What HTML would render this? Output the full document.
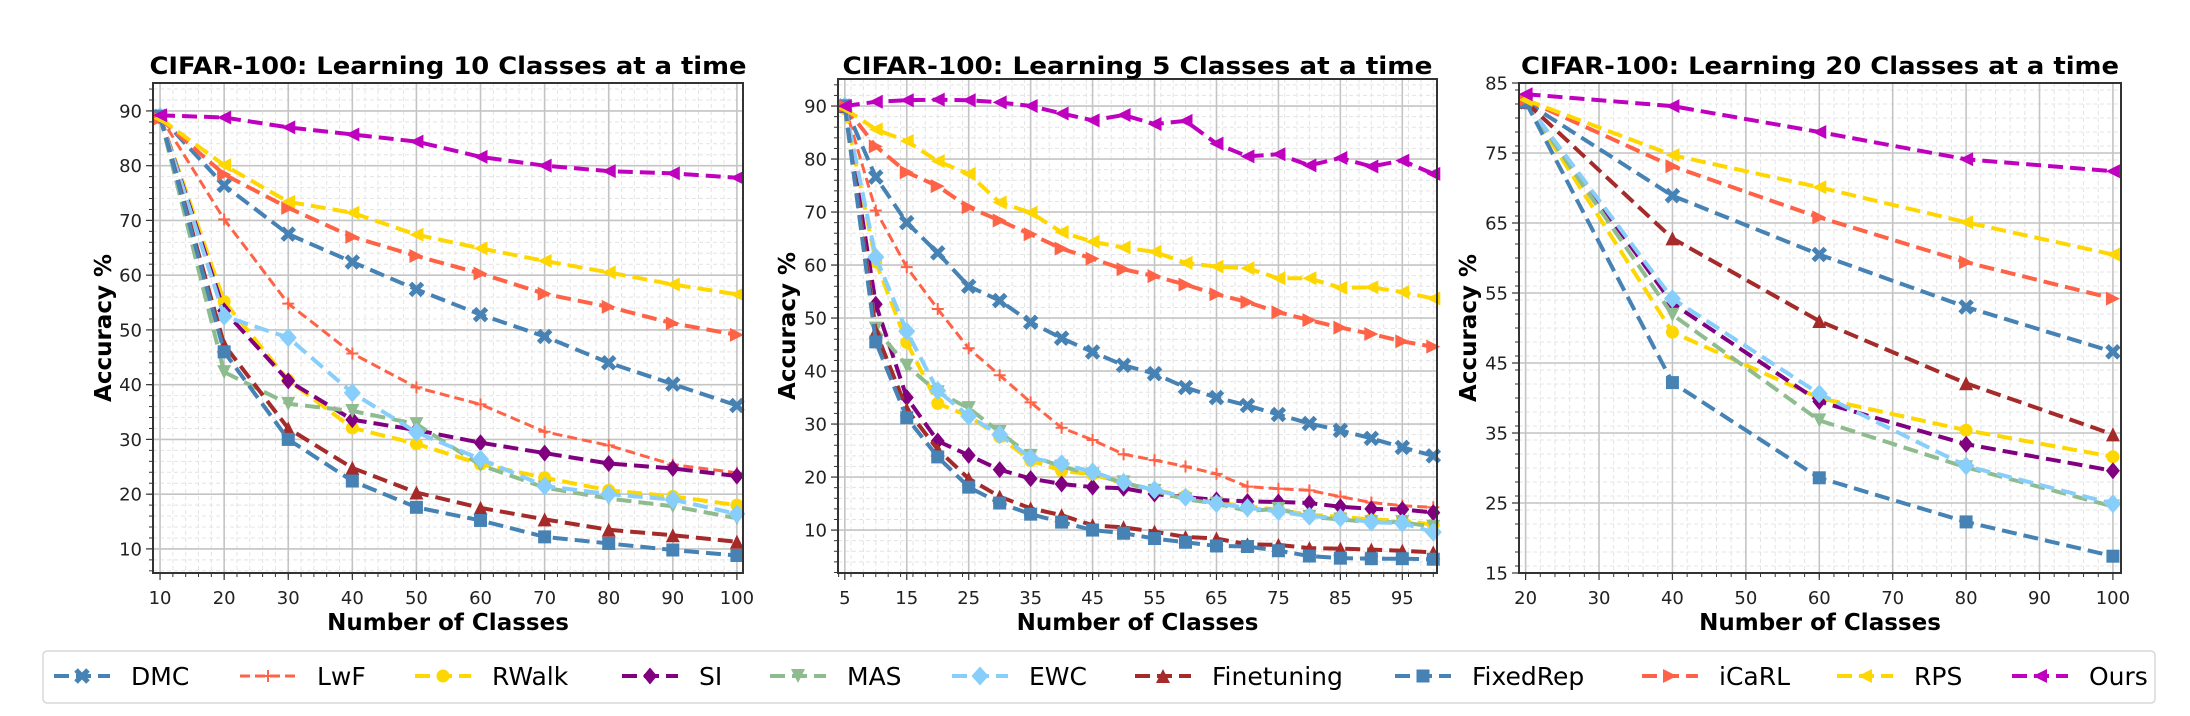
<!DOCTYPE html>
<html><head><meta charset="utf-8"><style>
html,body{margin:0;padding:0;background:#fff;}
svg{display:block;font-family:"DejaVu Sans","Liberation Sans",sans-serif;}
</style></head><body>
<svg id="fig" width="2190" height="716" viewBox="0 0 2190 716" xmlns="http://www.w3.org/2000/svg"></svg>
<script>
// ---------- data ----------
const seriesNames = ["DMC","LwF","RWalk","SI","MAS","EWC","Finetuning","FixedRep","iCaRL","RPS","Ours"];
const p1Classes = [10,20,30,40,50,60,70,80,90,100];
const p1DMC = [89,76.4,67.5,62.4,57.4,52.8,48.8,44,40.1,36.2];
const p1LwF = [89,70.2,54.8,45.7,39.5,36.4,31.4,28.9,25.4,23.9];
const p1RWalk = [89,55.2,40.8,32.1,29.2,25.5,23,20.7,19.6,18];
const p1SI = [89,53.5,40.7,33.6,31.7,29.4,27.5,25.6,24.7,23.3];
const p1MAS = [89,42.3,36.5,35.2,32.8,25.3,21.2,19.2,17.8,15.6];
const p1EWC = [89,52.5,48.6,38.5,31.3,26.4,21.5,20,19,16.4];
const p1Fine = [89,47.3,32,24.8,20.3,17.5,15.4,13.5,12.5,11.3];
const p1Fixed = [89,46,30,22.4,17.6,15.2,12.2,11,9.8,8.8];
const p1iCaRL = [88.6,78.4,72.3,67,63.5,60.3,56.6,54.2,51.2,49.1];
const p1RPS = [88.6,80.1,73.4,71.4,67.4,64.9,62.6,60.5,58.3,56.5];
const p1Ours = [89.2,88.8,87,85.7,84.4,81.6,80,79,78.6,77.8];

const p2Classes = [5,10,15,20,25,30,35,40,45,50,55,60,65,70,75,80,85,90,95,100];
const p2DMC = [90,76.6,68,62.3,56,53.3,49.2,46.2,43.6,41.1,39.5,36.9,35,33.5,31.8,30.1,28.8,27.3,25.6,24];
const p2LwF = [90,70.3,59.6,51.7,44.3,39.2,34.1,29.3,27,24.3,23.2,22,20.6,18.2,17.8,17.5,16.3,15.2,14.6,14.3];
const p2RWalk = [89.5,60.6,45.4,33.9,31.5,27.6,23.1,21.2,20.5,18.8,17.6,16.4,15.2,14.5,13.8,12.9,12.5,12,11.8,11];
const p2SI = [90,52.6,35,26.8,24.1,21.4,19.7,18.7,18.1,17.9,16.8,16.2,15.7,15.4,15.3,15.1,14.4,14,13.9,13.3];
const p2MAS = [90,48,41,36,33,28.5,24,22,20.5,19,17.4,15.8,15,13.6,14,12.5,12,11.5,11.5,10.6];
const p2EWC = [90,61.5,47.5,36.3,31.5,28,23.6,22.5,21,19,17.6,16.2,15,14.2,13.5,12.6,12.3,11.5,11.3,9.6];
const p2Fine = [90,47.5,32.8,25.2,19.7,16.3,14.1,12.8,10.9,10.5,9.7,8.7,8.4,7.3,7.2,6.6,6.5,6.3,6.1,5.8];
const p2Fixed = [90,45.5,31.2,23.8,18.1,15.1,13,11.5,10,9.4,8.4,7.7,7,6.9,6.1,5.1,4.7,4.6,4.6,4.5];
const p2iCaRL = [90,82.4,77.5,74.9,70.9,68.4,65.8,63.1,61.2,59.2,57.9,56.3,54.5,53,51.1,49.6,48.2,47,45.6,44.6];
const p2RPS = [89.5,85.6,83.4,79.6,77.2,71.8,69.9,66.2,64.4,63.3,62.5,60.4,59.7,59.4,57.5,57.5,55.7,55.8,54.9,53.7];
const p2Ours = [90,90.8,91.1,91.2,91.1,90.7,90,88.6,87.3,88.3,86.6,87.2,82.9,80.5,80.9,78.8,80.2,78.6,79.7,77.2];

const p3Classes = [20,40,60,80,100];
const p3DMC = [82.3,68.9,60.5,53,46.6];
const p3LwF = [82.3,null,null,null,null];
const p3RWalk = [82.3,49.4,40,35.4,31.6];
const p3SI = [82.3,53.5,39.5,33.4,29.6];
const p3MAS = [82.3,51.9,36.8,30.1,24.5];
const p3EWC = [82.3,54.2,40.6,30.3,24.9];
const p3Fine = [82.3,62.8,51,42.1,34.8];
const p3Fixed = [82.3,42.2,28.6,22.3,17.4];
const p3iCaRL = [82.6,73.1,65.8,59.4,54.2];
const p3RPS = [82.6,74.7,70.1,65.1,60.5];
const p3Ours = [83.4,81.7,78,74.1,72.4];

const p1YTicks = [10,20,30,40,50,60,70,80,90];
const p1XTicks = [10,20,30,40,50,60,70,80,90,100];
const p2YTicks = [10,20,30,40,50,60,70,80,90];
const p2XTicks = [5,15,25,35,45,55,65,75,85,95];
const p3YTicks = [15,25,35,45,55,65,75,85];
const p3XTicks = [20,30,40,50,60,70,80,90,100];

// ---------- styling ----------
const styles = {
  DMC:{c:"#4682b4",m:"X"}, LwF:{c:"#ff6347",m:"+",thin:true}, RWalk:{c:"#ffd700",m:"o"},
  SI:{c:"#800080",m:"D"}, MAS:{c:"#8fbc8f",m:"v"}, EWC:{c:"#87cefa",m:"D2"},
  Finetuning:{c:"#a52a2a",m:"^"}, FixedRep:{c:"#4682b4",m:"s"}, iCaRL:{c:"#ff6347",m:">"},
  RPS:{c:"#ffd700",m:"<"}, Ours:{c:"#bf00bf",m:"<"}
};
const svg = document.getElementById('fig');
const NS = "http://www.w3.org/2000/svg";
function mk(tag, attrs, parent){
  const e = document.createElementNS(NS, tag);
  for (const k in attrs) e.setAttribute(k, attrs[k]);
  (parent||svg).appendChild(e);
  return e;
}
function marker(g, type, x, y, c){
  let e;
  const r = 7;
  if (type==="o") e = mk('circle',{cx:x,cy:y,r:6.5,fill:c},g);
  else if (type==="s") e = mk('rect',{x:x-6.5,y:y-6.5,width:13,height:13,fill:c},g);
  else if (type==="D") e = mk('polygon',{points:`${x},${y-8.5} ${x+7},${y} ${x},${y+8.5} ${x-7},${y}`,fill:c},g);
  else if (type==="D2") e = mk('polygon',{points:`${x},${y-9.5} ${x+8.5},${y} ${x},${y+9.5} ${x-8.5},${y}`,fill:c},g);
  else if (type==="v") e = mk('polygon',{points:`${x-r},${y-r} ${x+r},${y-r} ${x},${y+r}`,fill:c},g);
  else if (type==="^") e = mk('polygon',{points:`${x-r},${y+r} ${x+r},${y+r} ${x},${y-r}`,fill:c},g);
  else if (type===">") e = mk('polygon',{points:`${x-r},${y-r} ${x-r},${y+r} ${x+r},${y}`,fill:c},g);
  else if (type==="<") e = mk('polygon',{points:`${x+r},${y-r} ${x+r},${y+r} ${x-r},${y}`,fill:c},g);
  else if (type==="+") e = mk('path',{d:`M${x-6},${y}H${x+6}M${x},${y-6}V${y+6}`,stroke:c,'stroke-width':2,fill:'none'},g);
  else if (type==="X") e = mk('path',{d:`M${x-6},${y-6}L${x+6},${y+6}M${x+6},${y-6}L${x-6},${y+6}`,stroke:c,'stroke-width':5,fill:'none'},g);
  
  
  return e;
}

function panel(cfg){
  const {id,L,R,T,B,xmin,xmax,ymin,ymax,xTicks,yTicks,xMinorStep,yMinorStep,classes,data,title,titleW,ylabX} = cfg;
  const g = mk('g',{});
  
  
  const sx = v => L + (v-xmin)/(xmax-xmin)*(R-L);
  const sy = v => B - (v-ymin)/(ymax-ymin)*(B-T);
  // minor grid
  const mg = mk('g',{stroke:"#e4e4e4",'stroke-width':1,'stroke-dasharray':"4 3"},g);
  
  
  for (let v=Math.ceil(xmin/xMinorStep)*xMinorStep; v<=xmax; v+=xMinorStep) mk('line',{x1:sx(v),x2:sx(v),y1:T,y2:B},mg);
  for (let v=Math.ceil(ymin/yMinorStep)*yMinorStep; v<=ymax; v+=yMinorStep) mk('line',{y1:sy(v),y2:sy(v),x1:L,x2:R},mg);
  // major grid + ticks
  const gg = mk('g',{stroke:"#c4c4c4",'stroke-width':1.6},g);
  
  
  xTicks.forEach(v=>mk('line',{x1:sx(v),x2:sx(v),y1:T,y2:B},gg));
  yTicks.forEach(v=>mk('line',{y1:sy(v),y2:sy(v),x1:L,x2:R},gg));
  // minor ticks
  const mt = mk('g',{stroke:"#333",'stroke-width':1},g);
  for (let v=Math.ceil(xmin/xMinorStep)*xMinorStep; v<=xmax; v+=xMinorStep) mk('line',{x1:sx(v),x2:sx(v),y1:B,y2:B+4},mt);
  for (let v=Math.ceil(ymin/yMinorStep)*yMinorStep; v<=ymax; v+=yMinorStep) mk('line',{y1:sy(v),y2:sy(v),x1:L,x2:L-4},mt);
  xTicks.forEach(v=>{
    mk('line',{x1:sx(v),x2:sx(v),y1:B,y2:B+7,stroke:"#333",'stroke-width':1.2},g);
    const t = mk('text',{x:sx(v),y:B+31,'text-anchor':'middle','font-size':18,fill:'#222'},g);
    t.textContent = v;
    
    
  });
  yTicks.forEach(v=>{
    mk('line',{y1:sy(v),y2:sy(v),x1:L,x2:L-7,stroke:"#333",'stroke-width':1.2},g);
    const t = mk('text',{x:L-11,y:sy(v)+6.5,'text-anchor':'end','font-size':18,fill:'#222'},g);
    t.textContent = v;
    
    
  });
  // series
  const clip = mk('clipPath',{id:id+'-clip'},g);
  mk('rect',{x:L,y:T-10,width:R-L+10,height:B-T+10},clip);
  const sg = mk('g',{'clip-path':`url(#${id}-clip)`},g);
  seriesNames.forEach((name,i)=>{
    const vals = data[i];
    const st = styles[name];
    const pts = [];
    vals.forEach((v,j)=>{ if (v!==null) pts.push([sx(classes[j]), sy(v)]); });
    if (pts.length<2) return;
    const line = mk('polyline',{points:pts.map(p=>p.join(',')).join(' '),fill:'none',stroke:st.c,
      'stroke-width':st.thin?3:4,'stroke-dasharray':st.thin?"10 5":"15 7",'stroke-linejoin':'round'},sg);
    
    
    pts.forEach(p=>marker(sg, st.m, p[0], p[1], st.c));
  });
  // frame
  const fr = mk('rect',{x:L,y:T,width:R-L,height:B-T,fill:'none',stroke:'#333','stroke-width':2},g);
  
  
  const tt = mk('text',{x:(L+R)/2,y:74,'text-anchor':'middle','font-size':24,'font-weight':'bold',fill:'#000',textLength:titleW,lengthAdjust:'spacingAndGlyphs'},g);
  tt.textContent = title;
  
  
  const xl = mk('text',{x:(L+R)/2,y:630,'text-anchor':'middle','font-size':23,'font-weight':'bold',fill:'#000'},g);
  xl.textContent = "Number of Classes";
  
  
  const yl = mk('text',{x:0,y:0,'text-anchor':'middle','font-size':23,'font-weight':'bold',fill:'#000',transform:`translate(${ylabX+8},${(T+B)/2}) rotate(-90)`},g);
  yl.textContent = "Accuracy %";
  
  
}

panel({id:'panel-10-classes',L:153,R:743,T:83,B:573,xmin:8.9,xmax:100.95,ymin:5.6,ymax:95.1,
  xTicks:p1XTicks,yTicks:p1YTicks,xMinorStep:2,yMinorStep:2,classes:p1Classes,
  data:[p1DMC,p1LwF,p1RWalk,p1SI,p1MAS,p1EWC,p1Fine,p1Fixed,p1iCaRL,p1RPS,p1Ours],
  title:"CIFAR-100: Learning 10 Classes at a time",titleW:597,ylabX:103});
panel({id:'panel-5-classes',L:838,R:1437,T:79,B:573,xmin:3.9,xmax:100.6,ymin:1.9,ymax:95.1,
  xTicks:p2XTicks,yTicks:p2YTicks,xMinorStep:2,yMinorStep:2,classes:p2Classes,
  data:[p2DMC,p2LwF,p2RWalk,p2SI,p2MAS,p2EWC,p2Fine,p2Fixed,p2iCaRL,p2RPS,p2Ours],
  title:"CIFAR-100: Learning 5 Classes at a time",titleW:590,ylabX:787});
panel({id:'panel-20-classes',L:1519,R:2121,T:83,B:573,xmin:19.1,xmax:101.1,ymin:15,ymax:85,
  xTicks:p3XTicks,yTicks:p3YTicks,xMinorStep:2,yMinorStep:2,classes:p3Classes,
  data:[p3DMC,p3LwF,p3RWalk,p3SI,p3MAS,p3EWC,p3Fine,p3Fixed,p3iCaRL,p3RPS,p3Ours],
  title:"CIFAR-100: Learning 20 Classes at a time",titleW:598,ylabX:1468});

// ---------- legend ----------
const lg = mk('g',{});


mk('rect',{x:43,y:651,width:2112,height:52,rx:4,fill:'#fff',stroke:'#d8d8d8','stroke-width':1.5},lg);
const legX = [54,240,415,622,770,952,1135,1395,1642,1837,2012];
seriesNames.forEach((name,i)=>{
  const st = styles[name];
  const eg = mk('g',{},lg);
  
  
  const x0 = legX[i], y0 = 676;
  mk('line',{x1:x0,x2:x0+56,y1:y0,y2:y0,stroke:st.c,'stroke-width':st.thin?3:4,'stroke-dasharray':st.thin?"10 5":"15 7"},eg);
  marker(eg, st.m, x0+28, y0, st.c);
  const t = mk('text',{x:x0+77,y:y0+9,'font-size':25,fill:'#000'},eg);
  t.textContent = name;
});
</script>
</body></html>
